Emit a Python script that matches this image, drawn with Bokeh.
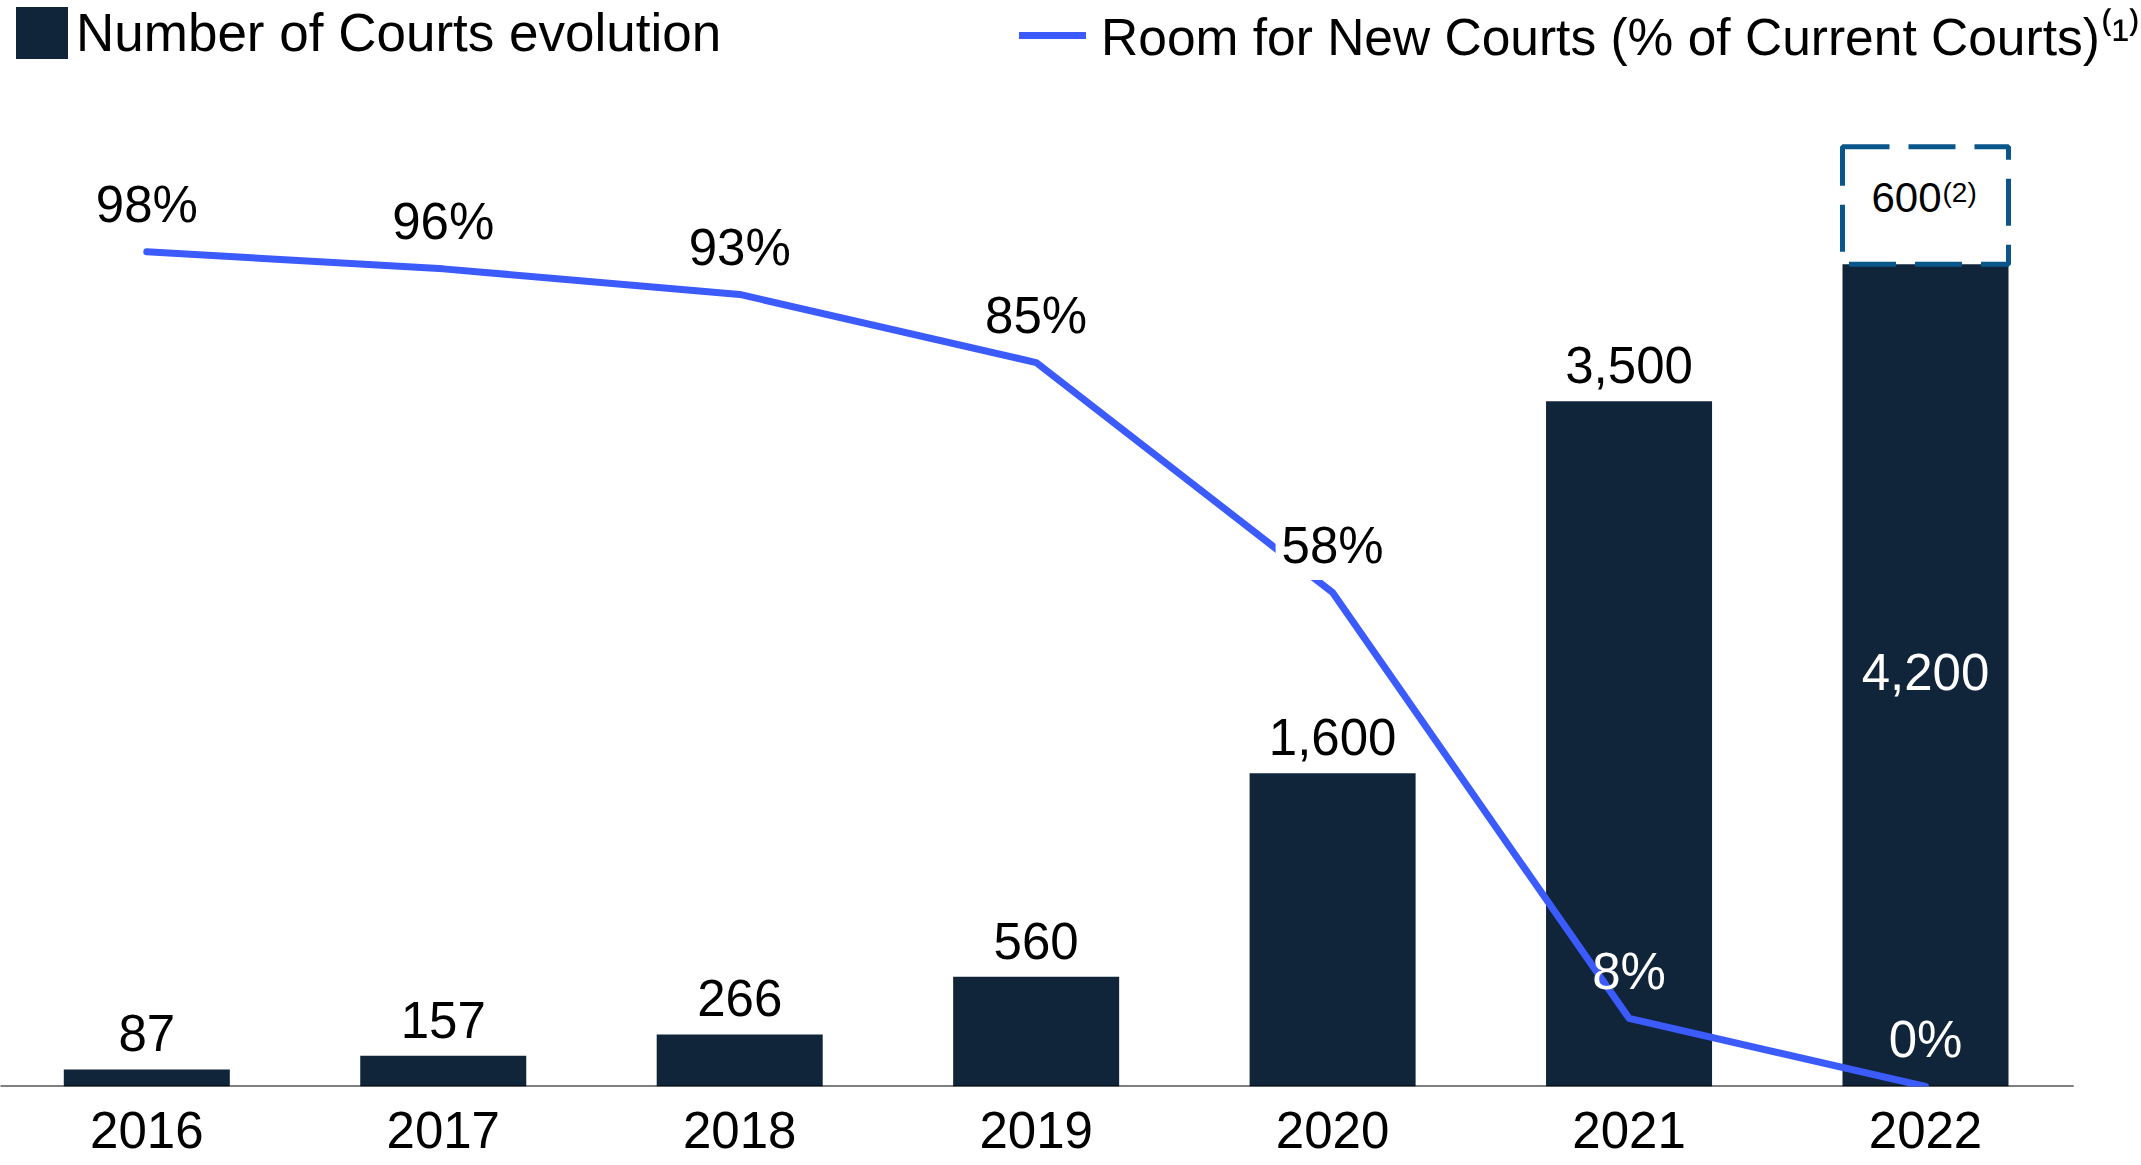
from bokeh.plotting import figure
from bokeh.models import Range1d, FixedTicker, Legend, LegendItem, ColumnDataSource
from bokeh.core.properties import value
from bokeh.embed import file_html
from bokeh.resources import INLINE

# ---------------- data ----------------
years = ["2016", "2017", "2018", "2019", "2020", "2021", "2022"]
courts = [87, 157, 266, 560, 1600, 3500, 4200]
court_labels = ["87", "157", "266", "560", "1,600", "3,500", "4,200"]
room_pct = [98, 96, 93, 85, 58, 8, 0]
pct_labels = ["98%", "96%", "93%", "85%", "58%", "8%", "0%"]
pipeline_2022 = 600
pipeline_label = "600"
pipeline_note = "(2)"
legend_bars = "Number of Courts evolution"
legend_line = "Room for New Courts (% of Current Courts)\u207d\u00b9\u207e"

# ---------------- style / layout ----------------
FONT = "Liberation Sans"
BAR = "#10243A"
LINE = "#3B5BFD"
DASH = "#0A568A"
FS = "51px"

W, H = 2141, 1165
AXIS_H = 79
FRAME_H = H - AXIS_H
SPACING = 296.45
FIRST_CENTER = 146.3
PX_PER_COURT = 0.1958
PX_PER_PCT = 8.517
BAR_W = 0.56
BASE_SHIFT = 21          # svg text baseline correction (px)
PCT_OFF = 26
LABEL_HALF_W = 60

xs = list(range(len(years)))
x_start = -FIRST_CENTER / SPACING
x_end = x_start + W / SPACING

p = figure(width=W, height=H, output_backend="svg", toolbar_location=None,
           x_range=Range1d(x_start, x_end),
           y_range=Range1d(0, FRAME_H / PX_PER_COURT),
           y_axis_location=None,
           min_border_left=0, min_border_right=0,
           min_border_top=0, min_border_bottom=AXIS_H)
p.extra_y_ranges = {"pct": Range1d(0, FRAME_H / PX_PER_PCT)}
p.outline_line_color = None
p.grid.grid_line_color = None
p.background_fill_color = "white"

# bars
src = ColumnDataSource(dict(x=xs, courts=courts))
bars = p.vbar(x="x", top="courts", width=BAR_W, source=src,
              fill_color=BAR, line_color=None)

# pipeline dashed box on last bar
p.vbar(x=[xs[-1]], bottom=[courts[-1]], top=[courts[-1] + pipeline_2022],
       width=BAR_W, fill_color=None, line_color=DASH, line_width=5,
       line_dash="47 19")

# baseline
p.segment(x0=[-0.5], y0=[0], x1=[len(years) - 0.5], y1=[0],
          line_color="black", line_width=2)

# line
lsrc = ColumnDataSource(dict(x=xs, pct=room_pct))
line = p.line(x="x", y="pct", source=lsrc, y_range_name="pct",
              line_color=LINE, line_width=7, line_cap="round", line_join="round")

# bar value labels (above bars, last one inside)
p.text(x=xs[:-1], y=courts[:-1], text=court_labels[:-1],
       text_font=value(FONT), text_font_size=FS, text_color="black",
       text_align="center", text_baseline="alphabetic", y_offset=-15 - BASE_SHIFT)
p.text(x=[xs[-1]], y=[courts[-1] / 2], text=[court_labels[-1]],
       text_font=value(FONT), text_font_size=FS, text_color="white",
       text_align="center", text_baseline="alphabetic", y_offset=18 - BASE_SHIFT)

# pipeline label
p.text(x=[xs[-1]], y=[courts[-1] + pipeline_2022 / 2], text=[pipeline_label],
       text_font=value(FONT), text_font_size="42px", text_color="black",
       text_align="center", text_baseline="alphabetic", x_offset=-19, y_offset=-8)
p.text(x=[xs[-1]], y=[courts[-1] + pipeline_2022 / 2], text=[pipeline_note],
       text_font=value(FONT), text_font_size="28px", text_color="black",
       text_align="left", text_baseline="alphabetic", x_offset=17, y_offset=-13)

# percent labels
on_bar = [c * PX_PER_COURT > v * PX_PER_PCT + PCT_OFF + 40 for c, v in zip(courts, room_pct)]
txt_col = ["white" if ob else "black" for ob in on_bar]
bg_alpha = []
for i in range(len(xs)):
    crosses = i > 0 and (room_pct[i - 1] - room_pct[i]) * PX_PER_PCT * LABEL_HALF_W / SPACING > PCT_OFF
    bg_alpha.append(1.0 if (crosses and not on_bar[i]) else 0.0)
psrc = ColumnDataSource(dict(x=xs, y=room_pct, t=pct_labels, c=txt_col, ba=bg_alpha))
p.text(x="x", y="y", text="t", source=psrc, y_range_name="pct",
       text_font=value(FONT), text_font_size=FS, text_color="c",
       text_align="center", text_baseline="alphabetic", y_offset=-PCT_OFF - BASE_SHIFT,
       background_fill_color="white", background_fill_alpha="ba", padding=6)

# axis
ax = p.xaxis[0]
ax.ticker = FixedTicker(ticks=xs)
ax.major_label_overrides = {i: y for i, y in enumerate(years)}
ax.major_label_text_font = FONT
ax.major_label_text_font_size = FS
ax.major_label_text_color = "black"
ax.axis_line_color = None
ax.major_tick_line_color = None
ax.minor_tick_line_color = None
ax.major_tick_out = 0
ax.major_label_standoff = 25

# legends
common = dict(orientation="horizontal", padding=0, margin=0, spacing=0,
              border_line_color=None, background_fill_alpha=0,
              label_text_font=FONT, label_text_color="black")
leg1 = Legend(items=[LegendItem(label=legend_bars, renderers=[bars])],
              location=(9, FRAME_H - 65), glyph_width=65, glyph_height=65,
              label_standoff=2, label_text_font_size="53px", **common)
leg2 = Legend(items=[LegendItem(label=legend_line, renderers=[line])],
              location="top_right", glyph_width=67, glyph_height=46,
              label_standoff=15, label_text_font_size="51.5px", **common)
p.add_layout(leg1)
p.add_layout(leg2)

open("out.html", "w").write(file_html(p, INLINE))
